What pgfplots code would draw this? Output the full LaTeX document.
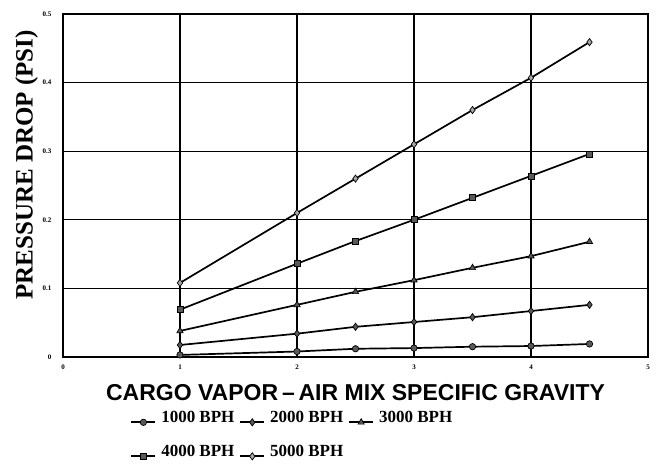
\documentclass[border=0pt]{standalone}
\usepackage{fontspec}
\setmainfont{Liberation Serif}
\newfontfamily\hsans[Ligatures=TeX]{Liberation Sans}
\usepackage{pgfplots}
\pgfplotsset{compat=1.18}
\begin{document}
\begin{tikzpicture}[x=1pt,y=1pt]
\begin{axis}[
  scale only axis, width=585pt, height=343pt,
  xmin=0, xmax=5, ymin=0, ymax=0.5,
  xtick={0,1,2,3,4,5}, ytick={0,0.1,0.2,0.3,0.4,0.5},
  grid=major, major grid style={black, line width=1.3pt},
  axis line style={black, line width=1.5pt},
  tick style={draw=none},
  /pgf/number format/assume math mode=true,
  /pgf/number format/fixed,
  ticklabel style={font=\fontsize{7}{8}\selectfont\bfseries},
  xticklabel style={yshift=-4pt},
  yticklabel style={xshift=-8pt},
  xlabel={\hsans\bfseries\fontsize{23}{25}\selectfont CARGO VAPOR\,–\,AIR MIX SPECIFIC GRAVITY},
  xlabel style={yshift=-8pt},
  ylabel={\bfseries\fontsize{25}{27}\selectfont PRESSURE DROP (PSI)},
  ylabel style={at={(ticklabel cs:0.56)}, yshift=-2pt},
  legend columns=3,
  legend style={draw=none, fill=none, at={(0.11,-0.145)}, anchor=north west,
    font=\bfseries\fontsize{17}{20}\selectfont, column sep=3pt, row sep=17pt},
  legend image code/.code={\draw[#1, mark repeat=2, mark phase=2] plot coordinates {(0pt,-5pt)(12pt,-5pt)(24pt,-5pt)};},
]
\addplot[black, line width=1.7pt, mark=*, mark size=3.2pt, mark options={fill=black!65, draw=black, line width=0.7pt}] coordinates {(1,0.003)(2,0.008)(2.5,0.012)(3,0.013)(3.5,0.015)(4,0.016)(4.5,0.019)};
\addlegendentry{1000 BPH}
\addplot[black, line width=1.7pt, mark=diamond*, mark size=3.6pt, mark options={fill=black!65, draw=black, line width=0.7pt}] coordinates {(1,0.0175)(2,0.034)(2.5,0.044)(3,0.051)(3.5,0.058)(4,0.067)(4.5,0.076)};
\addlegendentry{2000 BPH}
\addplot[black, line width=1.7pt, mark=triangle*, mark size=3.6pt, mark options={fill=black!65, draw=black, line width=0.7pt}] coordinates {(1,0.038)(2,0.076)(2.5,0.095)(3,0.112)(3.5,0.130)(4,0.147)(4.5,0.168)};
\addlegendentry{3000 BPH}
\addplot[black, line width=1.7pt, mark=square*, mark size=3.0pt, mark options={fill=black!65, draw=black, line width=0.7pt}] coordinates {(1,0.069)(2,0.136)(2.5,0.169)(3,0.200)(3.5,0.232)(4,0.264)(4.5,0.296)};
\addlegendentry{4000 BPH}
\addplot[black, line width=1.7pt, mark=diamond*, mark size=3.6pt, mark options={fill=black!35, draw=black, line width=0.7pt}] coordinates {(1,0.108)(2,0.210)(2.5,0.260)(3,0.310)(3.5,0.360)(4,0.407)(4.5,0.459)};
\addlegendentry{5000 BPH}
\end{axis}
\path (current axis.south west) ++(-63pt,-109pt) coordinate (bbA);
\path (current axis.north east) ++(12pt,14pt) coordinate (bbB);
\useasboundingbox (bbA) rectangle (bbB);
\end{tikzpicture}
\end{document}
